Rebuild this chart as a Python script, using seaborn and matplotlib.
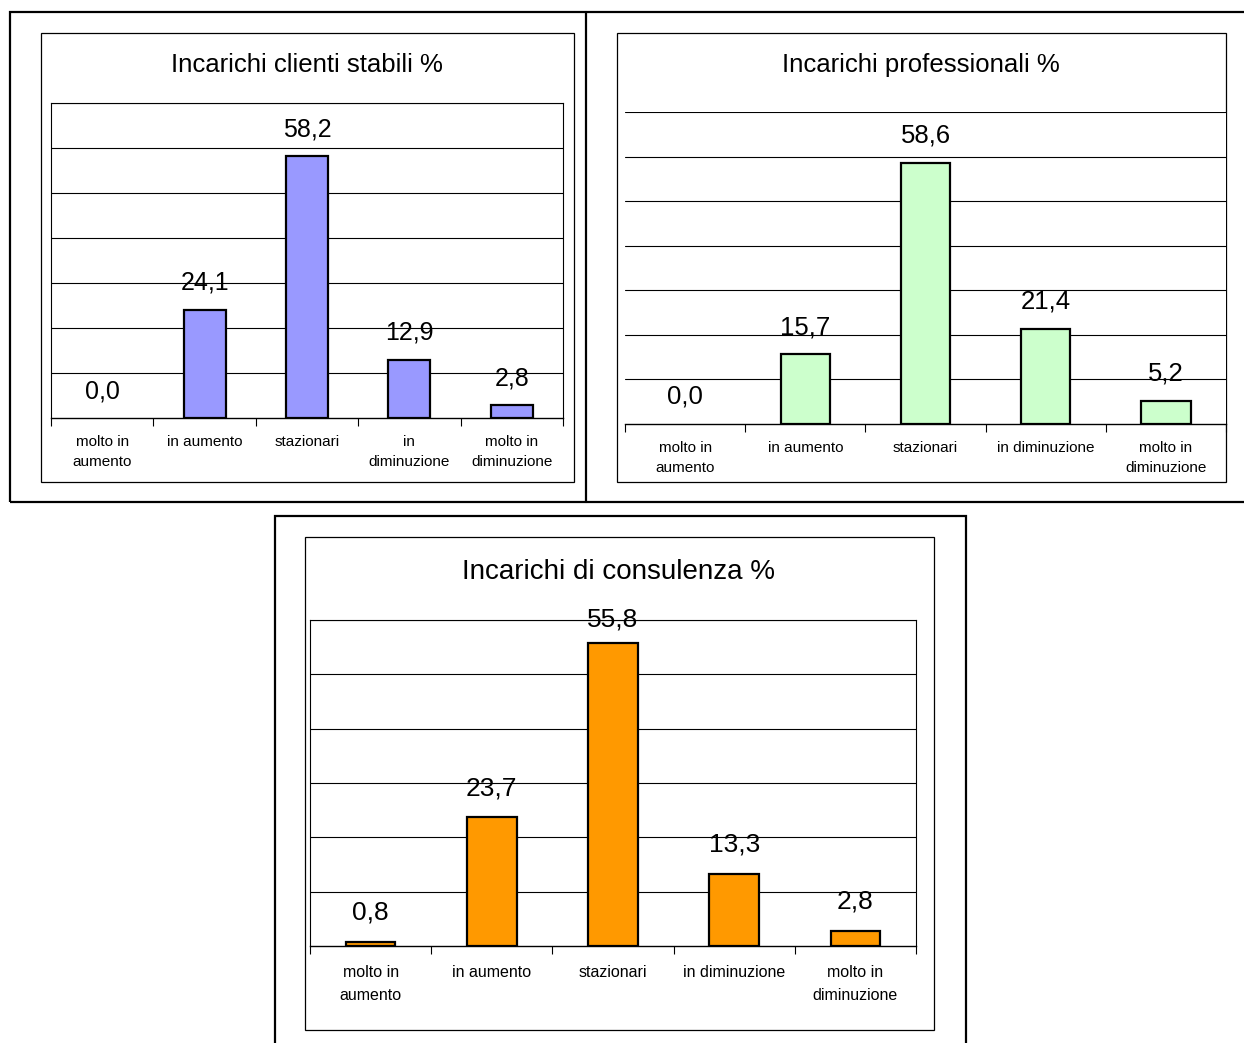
import matplotlib
matplotlib.use("Agg")
import matplotlib.pyplot as plt
from matplotlib.patches import Rectangle
from matplotlib.lines import Line2D
import seaborn as sns
import pandas as pd

# ---- data ----
cats_a = ["molto in\naumento", "in aumento", "stazionari", "in\ndiminuzione", "molto in\ndiminuzione"]
cats_b = ["molto in\naumento", "in aumento", "stazionari", "in diminuzione", "molto in\ndiminuzione"]
vals_stabili = [0.0, 24.1, 58.2, 12.9, 2.8]
vals_professionali = [0.0, 15.7, 58.6, 21.4, 5.2]
vals_consulenza = [0.8, 23.7, 55.8, 13.3, 2.8]
titles = ["Incarichi clienti stabili %", "Incarichi professionali %", "Incarichi di consulenza %"]
labels_stabili = ["0,0", "24,1", "58,2", "12,9", "2,8"]
labels_professionali = ["0,0", "15,7", "58,6", "21,4", "5,2"]
labels_consulenza = ["0,8", "23,7", "55,8", "13,3", "2,8"]

sns.set_style("white")
plt.rcParams["font.family"] = ["Liberation Sans", "DejaVu Sans"]
plt.rcParams["text.color"] = "black"
plt.rcParams["xtick.color"] = "black"
plt.rcParams["xtick.labelcolor"] = "black"

W, H = 1244, 1043
fig = plt.figure(figsize=(W / 100, H / 100), dpi=100)
fig.patch.set_facecolor("white")


def px_axes(x0, y0, x1, y1):
    return fig.add_axes([x0 / W, 1 - y1 / H, (x1 - x0) / W, (y1 - y0) / H])


def px_rect(x0, y0, x1, y1, lw):
    r = Rectangle((x0 / W, 1 - y1 / H), (x1 - x0) / W, (y1 - y0) / H,
                  transform=fig.transFigure, fill=False, edgecolor="black",
                  linewidth=lw, zorder=0)
    fig.add_artist(r)


def px_line(x0, y0, x1, y1, lw):
    fig.add_artist(Line2D([x0 / W, x1 / W], [1 - y0 / H, 1 - y1 / H],
                          transform=fig.transFigure, color="black", linewidth=lw))


# outer frames
px_rect(10, 12, 1252, 502, 1.6)
px_line(586, 12, 586, 502, 1.6)
px_rect(275, 516, 966, 1060, 1.6)
# inner chart borders
px_rect(41, 33, 574, 482, 0.9)
px_rect(617, 33, 1226, 482, 0.9)
px_rect(305, 537, 934, 1030, 0.9)


def draw(ax, ax_h_px, cats, vals, labels, color, ymax, title, title_xy, title_fs,
         val_fs, tick_fs, side_spines, lab_off_px, lsp, pad):
    df = pd.DataFrame({"cat": cats, "val": vals})
    sns.barplot(data=df, x="cat", y="val", ax=ax, color=color, saturation=1,
                edgecolor="black", linewidth=1.6, width=0.41, order=cats)
    for p in ax.patches:
        if p.get_height() == 0:
            p.set_linewidth(0)
    ax.set_xlim(-0.5, 4.5)
    ax.set_ylim(0, ymax)
    ax.set_xlabel("")
    ax.set_ylabel("")
    ax.set_yticks(range(10, ymax + 1, 10))
    ax.set_yticklabels([])
    ax.tick_params(axis="y", length=0)
    ax.grid(axis="y", color="black", linewidth=0.8)
    ax.set_axisbelow(True)
    ax.set_xticks(range(len(cats)))
    ax.set_xticklabels(cats, fontsize=tick_fs, va="top")
    for t in ax.get_xticklabels():
        t.set_linespacing(lsp)
    ax.set_xticks([i - 0.5 for i in range(len(cats) + 1)], minor=True)
    ax.tick_params(axis="x", which="major", length=0, pad=pad)
    ax.tick_params(axis="x", which="minor", length=6, width=0.8, color="black",
                   direction="out", bottom=True)
    for s in ["left", "right", "top"]:
        ax.spines[s].set_visible(side_spines)
        ax.spines[s].set_color("black")
        ax.spines[s].set_linewidth(0.8)
    ax.spines["bottom"].set_visible(True)
    ax.spines["bottom"].set_color("black")
    ax.spines["bottom"].set_linewidth(1.0)
    off_units = lab_off_px * ymax / ax_h_px
    for i, (v, lab) in enumerate(zip(vals, labels)):
        ax.text(i, min(v + off_units, ymax), lab, ha="center", va="center",
                fontsize=val_fs, color="black", clip_on=False)
    fig.text(title_xy[0] / W, 1 - title_xy[1] / H, title, ha="center", va="center",
             fontsize=title_fs, color="black")


ax1 = px_axes(51, 103, 563, 418)
draw(ax1, 315, cats_a, vals_stabili, labels_stabili, "#9999FF", 70, titles[0],
     (307, 65), 18.5, 18, 11, True, 27, 1.6, 12)

ax2 = px_axes(625, 112, 1226, 424)
draw(ax2, 312, cats_b, vals_professionali, labels_professionali, "#CCFFCC", 70, titles[1],
     (921, 65), 18.5, 18.5, 11, False, 27, 1.6, 12)

ax3 = px_axes(310, 620, 916, 946)
draw(ax3, 326, cats_b, vals_consulenza, labels_consulenza, "#FF9900", 60, titles[2],
     (619, 572), 20, 19, 11.5, True, 29, 1.65, 14)

fig.savefig("out.png", dpi=100, facecolor="white")
